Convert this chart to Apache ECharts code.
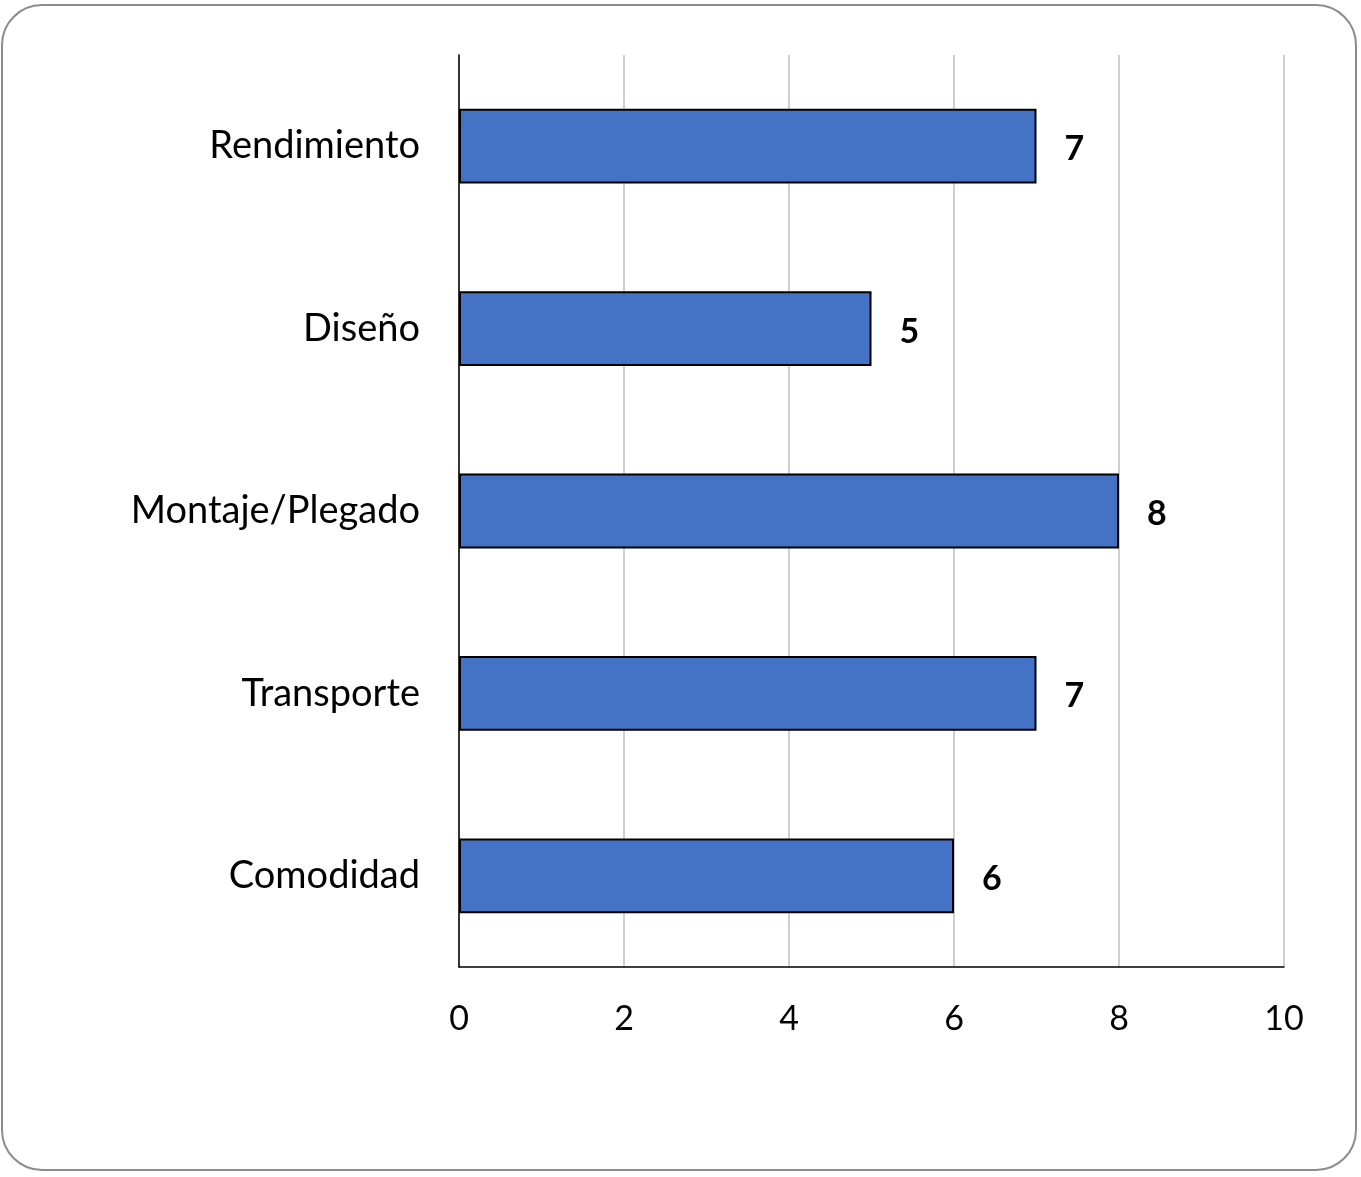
<!DOCTYPE html>
<html>
<head>
<meta charset="utf-8">
<script src="https://cdn.jsdelivr.net/npm/echarts@6/dist/echarts.min.js"></script>
<style>
  html, body { margin: 0; padding: 0; background: #fff; }
  #chart { width: 1361px; height: 1177px; }
</style>
</head>
<body>
<div id="chart"></div>
<script>
// categorias y puntuaciones
var categories = ['Rendimiento', 'Diseño', 'Montaje/Plegado', 'Transporte', 'Comodidad'];
var scores = [7, 5, 8, 7, 6];
var axisMin = 0, axisMax = 10, axisStep = 2;

var chart = echarts.init(document.getElementById('chart'));
var fontName = 'Lato, "Open Sans", sans-serif';

var option = {
    animation: false,
    backgroundColor: '#fff',
    graphic: [{
        type: 'rect',
        shape: { x: 2, y: 5, width: 1354, height: 1165, r: 40 },
        style: { fill: 'none', stroke: '#8c8c8c', lineWidth: 2 },
        silent: true
    }],
    grid: { left: 459, right: 77, top: 55, bottom: 210 },
    xAxis: {
        type: 'value',
        min: axisMin,
        max: axisMax,
        interval: axisStep,
        axisLine: { show: true, lineStyle: { color: '#000', width: 1.5 } },
        axisTick: { show: false },
        splitLine: { show: true, lineStyle: { color: '#cfcfcf', width: 2 } },
        axisLabel: { color: '#000', fontSize: 34, fontFamily: fontName, margin: 35 }
    },
    yAxis: {
        type: 'category',
        data: categories,
        inverse: true,
        axisLine: { show: true, lineStyle: { color: '#000', width: 1.5 } },
        axisTick: { show: false },
        axisLabel: { color: '#000', fontSize: 38, fontFamily: fontName, margin: 39 }
    },
    series: [{
        type: 'bar',
        data: scores,
        barWidth: '41%',
        itemStyle: { color: '#4472C4', borderColor: '#000', borderWidth: 2 },
        label: {
            show: true,
            position: 'right',
            distance: 28,
            color: '#000',
            fontSize: 34,
            fontWeight: 'bold',
            fontFamily: fontName,
            offset: [0, 3]
        }
    }]
};
chart.setOption(option);
</script>
</body>
</html>
